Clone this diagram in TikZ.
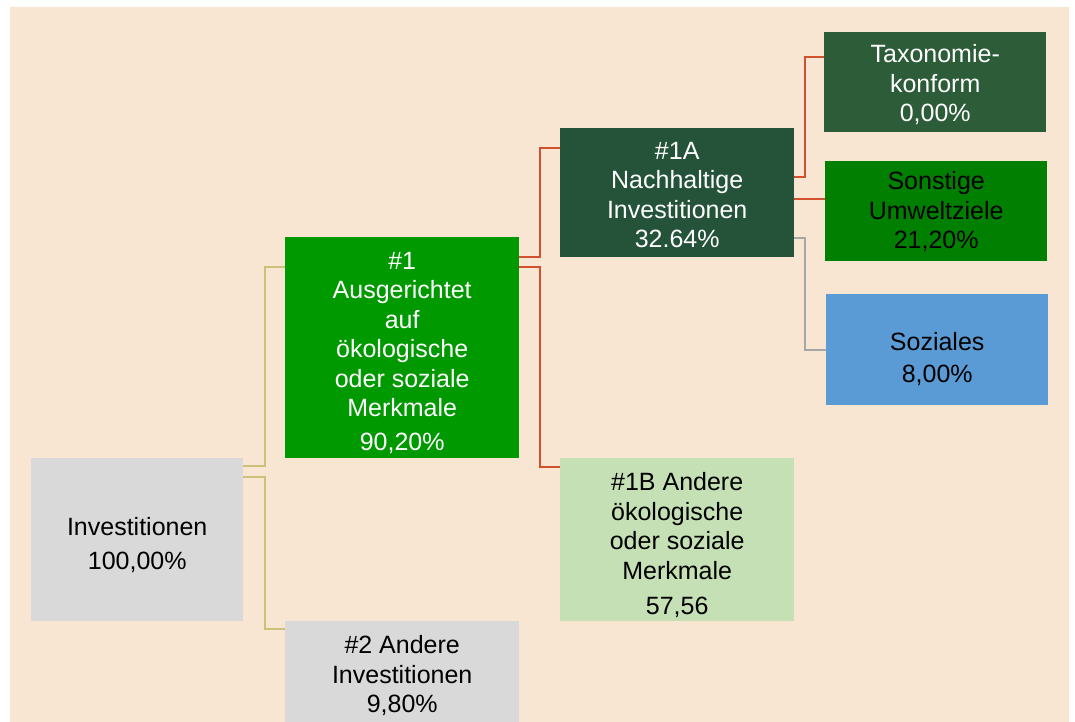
\documentclass[tikz,border=0pt]{standalone}
\usepackage{fontspec}
\setmainfont{Liberation Sans}
\usepackage{xcolor}
\definecolor{peach}{HTML}{F8E6D3}
\definecolor{boxgray}{HTML}{D9D9D9}
\definecolor{midgreen}{HTML}{009900}
\definecolor{darkgreen}{HTML}{24533A}
\definecolor{taxgreen}{HTML}{2D5C39}
\definecolor{othgreen}{HTML}{007F00}
\definecolor{socblue}{HTML}{5B9BD5}
\definecolor{palegreen}{HTML}{C5E0B4}
\definecolor{tanline}{HTML}{CBC17A}
\definecolor{redline}{HTML}{D0512E}
\definecolor{grayline}{HTML}{A6A6A6}
% lines of a box, lowered a little as in the slide
\newcommand{\boxtext}[2][5pt]{\raisebox{-#1}[\height][\depth]{\begin{tabular}{@{}c@{}}#2\end{tabular}}}
\tikzset{
  catbox/.style={rectangle, inner sep=0pt, anchor=north west,
    font=\fontsize{25}{29.5}\selectfont},
  link/.style={line width=2pt},
}

\begin{document}
\begin{tikzpicture}[x=1pt, y=-1pt]
        \useasboundingbox (0,0) rectangle (1075,722);
        \fill[peach] (10,7) rectangle (1069,722); %
        \node[catbox, fill=boxgray, minimum width=212pt, minimum height=163pt] (inv) at (31,458) {\boxtext[7pt]{Investitionen\\[5pt]100,00\%}} ; %
        \node[catbox, fill=midgreen, text=white, minimum width=234pt, minimum height=221pt] (a1) at (285,237) {\boxtext[6pt]{\#1\\Ausgerichtet\\auf\\ökologische\\oder soziale\\Merkmale\\[4pt]90,20\%}} ; %
        \node[catbox, fill=boxgray, minimum width=234pt, minimum height=112pt] (a2) at (285,621) {\boxtext[0pt]{\#2 Andere\\Investitionen\\9,80\%}} ; %
        \node[catbox, fill=darkgreen, text=white, minimum width=234pt, minimum height=129pt] (b1) at (560,128) {\boxtext{\#1A\\Nachhaltige\\Investitionen\\32.64\%}} ; %
        \node[catbox, fill=palegreen, minimum width=234pt, minimum height=163pt] (b2) at (560,458) {\boxtext[7pt]{\#1B Andere\\ökologische\\oder soziale\\Merkmale\\[6pt]57,56}} ; %
        \node[catbox, fill=taxgreen, text=white, minimum width=222pt, minimum height=100pt] (tax) at (824,32) {\boxtext[4pt]{Taxonomie-\\konform\\0,00\%}} ; %
        \node[catbox, fill=othgreen, minimum width=222pt, minimum height=100pt] (oth) at (825,161) {\boxtext[2pt]{Sonstige\\Umweltziele\\21,20\%}} ; %
        \node[catbox, fill=socblue, minimum width=222pt, minimum height=111pt] (soc) at (826,294) {\boxtext[11pt]{Soziales\\[2pt]8,00\%}} ; %
        \draw[link, tanline] ([yshift=-8pt]inv.north east) -- ++(22,0) |- ([yshift=-30pt]a1.north west); %
        \draw[link, tanline] ([yshift=-19pt]inv.north east) -- ++(22,0) |- ([yshift=-8pt]a2.north west); %
        \draw[link, redline] ([yshift=-20pt]a1.north east) -- ++(21,0) |- ([yshift=-20pt]b1.north west); %
        \draw[link, redline] ([yshift=-30pt]a1.north east) -- ++(21,0) |- ([yshift=-9pt]b2.north west); %
        \draw[link, redline] ([yshift=-49pt]b1.north east) -- ++(11,0) |- ([yshift=-25pt]tax.north west); %
        \draw[link, redline] ([yshift=-71pt]b1.north east) -- ([yshift=-38pt]oth.north west); %
        \draw[link, grayline] ([yshift=-110pt]b1.north east) -- ++(11,0) |- ([yshift=-56pt]soc.north west); %
      \end{tikzpicture}
\end{document}
